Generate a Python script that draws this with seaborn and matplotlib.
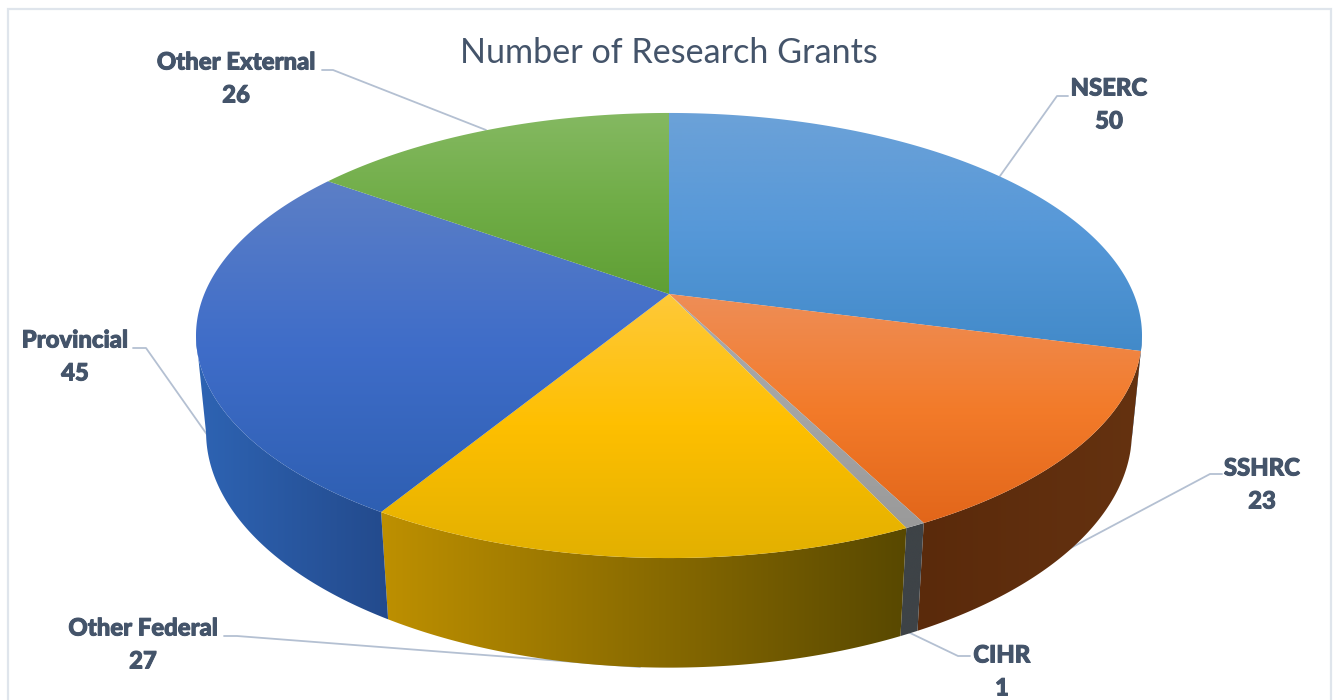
import numpy as np
import matplotlib
matplotlib.use("Agg")
import matplotlib.pyplot as plt
import matplotlib.patheffects as pe
import seaborn as sns
from matplotlib.colors import LinearSegmentedColormap
from matplotlib.patches import Polygon, Rectangle

categories = ["NSERC", "SSHRC", "CIHR", "Other Federal", "Provincial", "Other External"]
values = [50, 23, 1, 27, 45, 26]

# top face: colour at upper edge, middle, lower edge of each slice
top_colors = [
    ["#6CA2D8", "#5698D8", "#428AC9"],
    ["#EE8E58", "#F37B2A", "#E2661A"],
    ["#A8A8A8", "#A5A5A5", "#9A9A9A"],
    ["#FFC93A", "#FEBF00", "#E2B000"],
    ["#5C7FC6", "#3F6DC9", "#2E5FB2"],
    ["#85B962", "#70AD47", "#5F9F34"],
]
# side face: colour at left and right end
side_colors = [
    ["#3A72AE", "#3A72AE"],
    ["#5A2A0B", "#653210"],
    ["#3E4347", "#3E4347"],
    ["#BE9000", "#584800"],
    ["#2E64B4", "#234A8C"],
    ["#4C7A2C", "#4C7A2C"],
]

label_pos = [(1109, 88), (1262, 468), (1002, 655), (143, 628), (75, 340), (236, 62)]
leaders = [
    [(1068, 96), (1057, 96), (1000, 176)],
    [(1222, 474), (1210, 474), (1067, 550)],
    [(970, 656), (958, 656), (908, 632)],
    [(224, 636), (237, 636), (640, 667)],
    [(133, 348), (146, 348), (208, 436)],
    [(322, 70), (333, 70), (486, 130)],
]

# perspective of the tilted disc, fitted to the picture
CX, CY = 669, 294
A, B, K = 464.7, 214.8, 0.1865
DEPTH_Y, DEPTH_W = 97, 0.021


def project(theta, z=0.0):
    x, y = np.sin(theta), np.cos(theta)
    w = 1 + K * y + DEPTH_W * z
    return np.column_stack([CX + A * x / w, CY + (-B * y + DEPTH_Y * z) / w])


def gradient(ax, poly, colors, vertical, zorder):
    cmap = LinearSegmentedColormap.from_list("g", colors)
    ramp = np.linspace(0, 1, 256)
    ramp = ramp[:, None] if vertical else ramp[None, :]
    x0, y0 = poly.min(axis=0)
    x1, y1 = poly.max(axis=0)
    im = ax.imshow(ramp, cmap=cmap, extent=(x0 - 1, x1 + 1, y1 + 1, y0 - 1),
                   aspect="auto", zorder=zorder, interpolation="bilinear")
    patch = Polygon(poly, closed=True, transform=ax.transData, fc="none", ec="none")
    ax.add_patch(patch)
    im.set_clip_path(patch)


sns.set_theme(style="white")
plt.rcParams["font.family"] = ["Lato", "DejaVu Sans"]

fig, ax = plt.subplots(figsize=(13.36, 7), dpi=100)
fig.subplots_adjust(0, 0, 1, 1)

ax.add_patch(Rectangle((7.5, 8.5), 1323, 720, fc="white", ec="#DFE5EC", lw=1.6, zorder=0))

for pts in leaders:
    ax.plot(*zip(*pts), color="#B4C0D2", lw=1.3, zorder=1, solid_joinstyle="round")

edges = np.radians(np.concatenate([[0], np.cumsum(values)]) / sum(values) * 360)
t_right, t_left = np.arccos(-K), 2 * np.pi - np.arccos(-K)

# sides first, only the part that faces the viewer
for i in range(len(values)):
    a, b = max(edges[i], t_right), min(edges[i + 1], t_left)
    if b <= a:
        continue
    t = np.linspace(a, b, 120)
    poly = np.vstack([project(t), project(t[::-1], 1)])
    gradient(ax, poly, side_colors[i], False, 2)

# then the top face
for i in range(len(values)):
    t = np.linspace(edges[i], edges[i + 1], 200)
    poly = np.vstack([[(CX, CY)], project(t)])
    gradient(ax, poly, top_colors[i], True, 3)

# Lato bold comes out lighter than the reference, thicken it a bit
thick = [pe.withStroke(linewidth=0.7, foreground="#44546A")]
for name, val, (x, y) in zip(categories, values, label_pos):
    ax.text(x, y, name, ha="center", va="center", fontsize=17.2, fontweight=900,
            color="#44546A", zorder=5, path_effects=thick)
    ax.text(x, y + 33, str(val), ha="center", va="center", fontsize=17.2, fontweight=900,
            color="#44546A", zorder=5, path_effects=thick)

ax.text(669, 53, "Number of Research Grants", ha="center", va="center", fontsize=24.6,
        color="#44546A", zorder=5)

ax.set_xlim(0, 1336)
ax.set_ylim(700, 0)
ax.axis("off")
fig.savefig("out.png", dpi=100)
